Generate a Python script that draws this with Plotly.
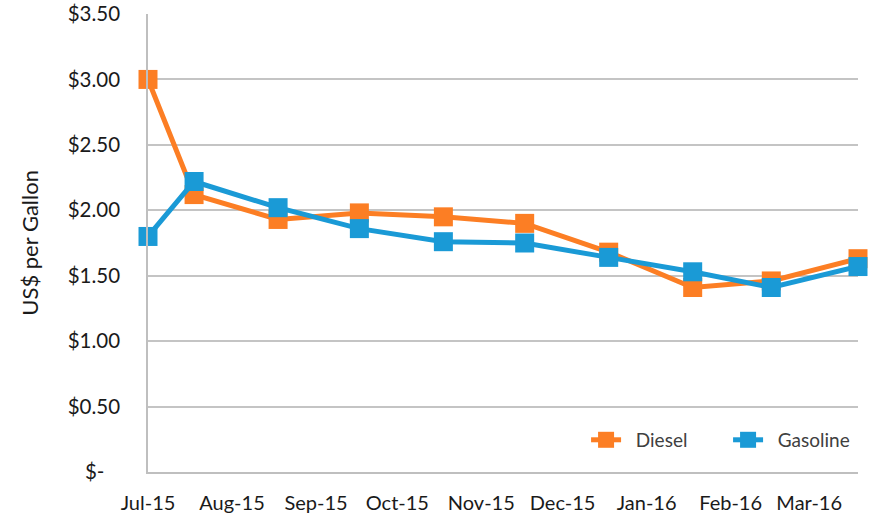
import plotly.graph_objects as go

dates = ["2015-07-01", "2015-07-18", "2015-08-18", "2015-09-17", "2015-10-18",
         "2015-11-17", "2015-12-18", "2016-01-18", "2016-02-16", "2016-03-19"]
diesel = [3.00, 2.12, 1.93, 1.98, 1.95, 1.90, 1.68, 1.41, 1.46, 1.63]
gasoline = [1.80, 2.22, 2.02, 1.86, 1.76, 1.75, 1.64, 1.53, 1.41, 1.57]

month_ticks = ["2015-07-01", "2015-08-01", "2015-09-01", "2015-10-01", "2015-11-01",
               "2015-12-01", "2016-01-01", "2016-02-01", "2016-03-01"]
month_labels = ["Jul-15", "Aug-15", "Sep-15", "Oct-15", "Nov-15",
                "Dec-15", "Jan-16", "Feb-16", "Mar-16"]
y_ticks = [0, 0.5, 1.0, 1.5, 2.0, 2.5, 3.0, 3.5]
y_labels = ["$-\u00a0\u00a0\u00a0", "$0.50", "$1.00", "$1.50", "$2.00", "$2.50", "$3.00", "$3.50"]

ORANGE = "#FC7E24"
BLUE = "#1A9AD6"
FONT = "Lato, Open Sans, sans-serif"
TXT = "#1A1A1A"

fig = go.Figure()
fig.add_trace(go.Scatter(x=dates, y=diesel, name="\u00a0\u00a0Diesel", mode="lines+markers",
                         line=dict(color=ORANGE, width=5), cliponaxis=False,
                         marker=dict(symbol="square", size=19, color=ORANGE)))
fig.add_trace(go.Scatter(x=dates, y=gasoline, name="\u00a0\u00a0Gasoline", mode="lines+markers",
                         line=dict(color=BLUE, width=5), cliponaxis=False,
                         marker=dict(symbol="square", size=19, color=BLUE)))

fig.update_layout(
    width=874, height=516,
    margin=dict(l=148, r=16, t=14, b=44, autoexpand=False),
    plot_bgcolor="white", paper_bgcolor="white",
    font=dict(family=FONT, size=20, color=TXT),
    showlegend=True,
    legend=dict(orientation="h", x=0.617, xanchor="left", y=0.07, yanchor="middle",
                bgcolor="rgba(0,0,0,0)", font=dict(size=19, color="#404040"),
                entrywidth=97, entrywidthmode="pixels", traceorder="normal"),
    xaxis=dict(type="date", range=["2015-07-01", "2016-03-19"],
               tickvals=month_ticks, ticktext=month_labels,
               showgrid=False, zeroline=False, automargin=False,
               showline=True, linecolor="#BFBFBF", linewidth=1.5,
               ticks="", ticklabelstandoff=12,
               tickfont=dict(size=20, color=TXT)),
    yaxis=dict(range=[0, 3.5], tickvals=y_ticks, ticktext=y_labels,
               showgrid=True, gridcolor="#C4C4C4", gridwidth=1.5, automargin=False,
               zeroline=False, showline=True, linecolor="#BFBFBF", linewidth=1.5,
               ticks="", ticklabelstandoff=22,
               tickfont=dict(size=20.5, color=TXT)),
    annotations=[dict(text="US$ per Gallon", xref="paper", yref="paper",
                      x=-0.168, y=0.5, xanchor="center", yanchor="middle",
                      textangle=-90, showarrow=False,
                      font=dict(size=22, color=TXT, family=FONT))],
)

fig.write_html("out.html", config={"displayModeBar": False},
               post_script="document.body.style.margin='0';")
